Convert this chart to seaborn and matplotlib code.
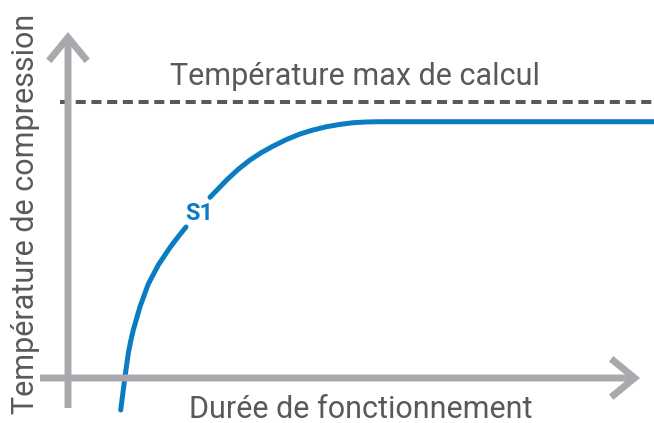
import pandas as pd
import matplotlib
matplotlib.use("Agg")
import matplotlib.pyplot as plt
import seaborn as sns

# curve S1 (arbitrary units, origin at the axes crossing)
duree_bas = [52.7, 57, 60.3, 62.6, 65.3, 72, 80.3, 90.3, 102, 110, 118]
temp_bas = [-32, 1.3, 24.7, 36.5, 48, 71.3, 94, 113, 130.5, 141, 151]
duree_haut = [142, 158.7, 170, 182, 193.5, 205.3, 218.5, 232, 245, 258.7,
              272, 285.3, 298, 312, 586]
temp_haut = [180.7, 198, 208.5, 218, 225.5, 232, 238.5, 244, 248, 251.3,
             253.6, 255.3, 256, 256.3, 256.3]
temp_max = 276
label_s1 = "S1"
label_max = "Température max de calcul"
xlabel = "Durée de fonctionnement"
ylabel = "Température de compression"

blue = "#0a7cc2"
grey_axis = "#a7a9ac"
grey_text = "#58595b"

sns.set_theme(style="white")
plt.rcParams["font.family"] = ["Roboto", "DejaVu Sans"]

fig = plt.figure(figsize=(6.54, 4.23), dpi=100)
ax = fig.add_axes([0, 0, 1, 1])

# axes with arrow heads
arrow = dict(arrowstyle="->, head_length=1.4, head_width=1.15", color=grey_axis,
             lw=5, shrinkA=0, shrinkB=0, joinstyle="miter", capstyle="butt")
ax.annotate("", xy=(572, 0), xytext=(-28, 0), arrowprops=arrow)
ax.annotate("", xy=(0, 346), xytext=(0, -30), arrowprops=arrow)

# max temperature
ax.plot([-8, 586], [temp_max, temp_max], color=grey_text, lw=2.9,
        linestyle=(0, (2.5, 1.4)), solid_capstyle="butt", dash_capstyle="butt")
ax.text(287, 293, label_max, ha="center", va="baseline", fontsize=22,
        color=grey_text)

# S1 curve, split around its label
df_bas = pd.DataFrame({"duree": duree_bas, "temp": temp_bas})
df_haut = pd.DataFrame({"duree": duree_haut, "temp": temp_haut})
sns.lineplot(data=df_bas, x="duree", y="temp", sort=False, color=blue, lw=3.6,
             ax=ax)
sns.lineplot(data=df_haut, x="duree", y="temp", sort=False, color=blue, lw=3.6,
             ax=ax)
ax.text(131, 165, label_s1, ha="center", va="center", fontsize=17,
        fontweight="bold", color=blue)

ax.text(293, -40, xlabel, ha="center", va="baseline", fontsize=22,
        color=grey_text)
ax.text(-42, 164, ylabel, ha="center", va="center", rotation=90,
        fontsize=22, color=grey_text)

ax.set_xlim(-68, 586)
ax.set_ylim(-45, 378)
ax.axis("off")

fig.savefig("out.png", dpi=100)
